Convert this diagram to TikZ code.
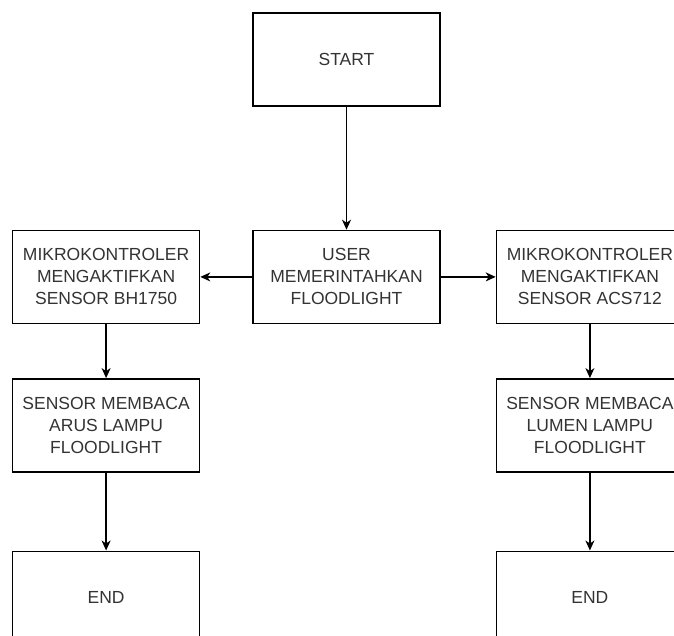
\documentclass[tikz,border=0pt]{standalone}
\usepackage{fontspec}
\setmainfont{Liberation Sans}
\usetikzlibrary{positioning,arrows.meta}

\begin{document}
\begin{tikzpicture}[x=1pt,y=1pt]
  \useasboundingbox (0,0) rectangle (674,-635);
  \coordinate(top) at (346.5,-59.5);
  \begin{scope}[
    every node/.style={
      draw,
      line width=1.4pt,
      align=center,
      anchor=center,
      inner sep=0pt,
      text=black!80,
      font=\fontsize{17.5}{22}\selectfont,
      minimum width=187pt,
      minimum height=93pt,
    },
    ]
    \node (start) at (top) {START};
    \node[below=123pt of start] (user) {USER\\MEMERINTAHKAN\\FLOODLIGHT};
    \node[left=52pt of user]  (mcu-bh)  {MIKROKONTROLER\\MENGAKTIFKAN\\SENSOR BH1750};
    \node[right=55pt of user] (mcu-acs) {MIKROKONTROLER\\MENGAKTIFKAN\\SENSOR ACS712};
    \node[below=54pt of mcu-bh]  (read-arus)  {SENSOR MEMBACA\\ARUS LAMPU\\FLOODLIGHT};
    \node[below=54pt of mcu-acs] (read-lumen) {SENSOR MEMBACA\\LUMEN LAMPU\\FLOODLIGHT};
    \node[below=78pt of read-arus]  (end-bh)  {END};
    \node[below=78pt of read-lumen] (end-acs) {END};
  \end{scope}
  \begin{scope}[
    every edge/.style={draw,line width=1.4pt,>={Stealth[length=10pt,width=9pt,inset=3pt]}},
    ]
    \path[->]
    (start)      edge (user)
    (user)       edge (mcu-bh)
    (user)       edge (mcu-acs)
    (mcu-bh)     edge (read-arus)
    (mcu-acs)    edge (read-lumen)
    (read-arus)  edge (end-bh)
    (read-lumen) edge (end-acs);
  \end{scope}
\end{tikzpicture}
\end{document}
